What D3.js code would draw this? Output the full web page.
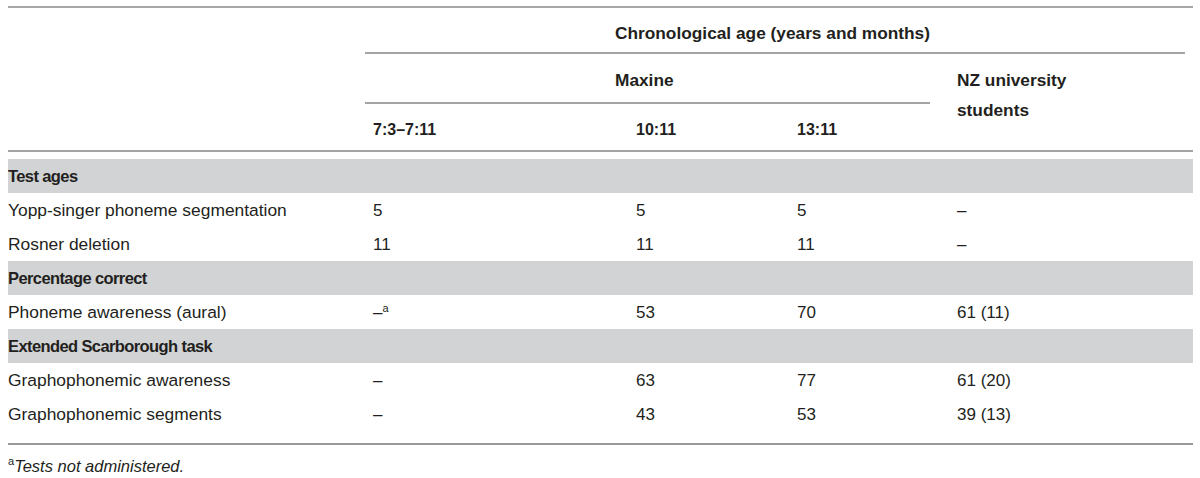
<!DOCTYPE html>
<html>
<head>
<meta charset="utf-8">
<script src="https://cdn.jsdelivr.net/npm/d3@7"></script>
<style>
  body { margin: 0; background: #fff; }
  text { font-family: "Liberation Sans", Arial, sans-serif; fill: #231f20; }
</style>
</head>
<body>
<div id="table"></div>
<script>
let w = 1200;
let h = 478;

// table content
let columns = ["7:3–7:11", "10:11", "13:11", "NZ"];
let rows = [
  "Test ages",
  "Yopp-singer phoneme segmentation",
  "Rosner deletion",
  "Percentage correct",
  "Phoneme awareness (aural)",
  "Extended Scarborough task",
  "Graphophonemic awareness",
  "Graphophonemic segments"
];
let sectionRows = ["Test ages", "Percentage correct", "Extended Scarborough task"];
let age7 = ["", "5", "11", "", "–a", "", "–", "–"];
let age10 = ["", "5", "11", "", "53", "", "63", "43"];
let age13 = ["", "5", "11", "", "70", "", "77", "53"];
let students = ["", "–", "–", "", "61 (11)", "", "61 (20)", "39 (13)"];
let footnote = "Tests not administered.";

let viz = d3.select("#table")
  .append("svg")
  .attr("width", w)
  .attr("height", h);

// scales
let yScale = d3.scaleBand().domain(rows).range([159, 431]);
let xScale = d3.scaleOrdinal().domain(columns).range([373, 636, 797, 957]);
let left = 8;
let right = 1193;

// header rules
viz.append("line").attr("x1", left).attr("x2", right).attr("y1", 7).attr("y2", 7)
  .attr("stroke", "#8a8a8a").attr("stroke-width", 1.5);
viz.append("line").attr("x1", 365).attr("x2", 1185).attr("y1", 53).attr("y2", 53)
  .attr("stroke", "#4a4a4a").attr("stroke-width", 1);
viz.append("line").attr("x1", 365).attr("x2", 930).attr("y1", 103).attr("y2", 103)
  .attr("stroke", "#4a4a4a").attr("stroke-width", 1);
viz.append("line").attr("x1", left).attr("x2", right).attr("y1", 151).attr("y2", 151)
  .attr("stroke", "#4a4a4a").attr("stroke-width", 1);

// header text
let header = viz.append("g").attr("font-weight", 700).attr("font-size", 17.3);
header.append("text").attr("x", 615).attr("y", 33).attr("dy", "0.35em")
  .text("Chronological age (years and months)");
header.append("text").attr("x", 615).attr("y", 80).attr("dy", "0.35em").text("Maxine");
header.append("text").attr("x", xScale("NZ")).attr("y", 80).attr("dy", "0.35em").text("NZ university");
header.append("text").attr("x", xScale("NZ")).attr("y", 110).attr("dy", "0.35em").text("students");
header.selectAll(".colhead").data(columns.slice(0, 3)).enter()
  .append("text")
  .attr("class", "colhead")
  .attr("x", d => xScale(d))
  .attr("y", 129)
  .attr("dy", "0.35em")
  .attr("font-size", 16)
  .text(d => d);

// grey section bands
viz.selectAll(".band").data(sectionRows).enter()
  .append("rect")
  .attr("class", "band")
  .attr("x", left)
  .attr("y", d => yScale(d))
  .attr("width", right - left)
  .attr("height", yScale.bandwidth())
  .attr("fill", "#d1d3d4");

// row labels
let isSection = d => sectionRows.includes(d);
viz.selectAll(".rowlabel").data(rows).enter()
  .append("text")
  .attr("class", "rowlabel")
  .attr("x", left)
  .attr("y", d => yScale(d) + yScale.bandwidth() / 2)
  .attr("dy", "0.35em")
  .attr("font-size", d => isSection(d) ? 16.5 : 17.4)
  .attr("letter-spacing", d => isSection(d) ? -0.6 : 0)
  .attr("font-weight", d => isSection(d) ? 700 : 400)
  .attr("fill", d => isSection(d) ? "#231f20" : "#333")
  .text(d => d);

// cells
let cells = [];
rows.forEach((r, i) => {
  [age7, age10, age13, students].forEach((col, j) => {
    if (col[i] !== "") cells.push({ row: r, col: columns[j], value: col[i] });
  });
});

let cell = viz.selectAll(".cell").data(cells).enter()
  .append("text")
  .attr("class", "cell")
  .attr("x", d => xScale(d.col))
  .attr("y", d => yScale(d.row) + yScale.bandwidth() / 2)
  .attr("dy", "0.35em")
  .attr("font-size", 17)
  .attr("fill", "#333");

cell.append("tspan").text(d => d.value.replace("a", ""));
cell.filter(d => d.value.endsWith("a"))
  .append("tspan")
  .attr("font-size", 11)
  .attr("dy", "-0.55em")
  .text("a");

// bottom rule
viz.append("line").attr("x1", left).attr("x2", right).attr("y1", 444).attr("y2", 444)
  .attr("stroke", "#999").attr("stroke-width", 2);

// footnote
let foot = viz.append("text").attr("x", left).attr("y", 470).attr("font-size", 16.5).attr("fill", "#333");
foot.append("tspan").attr("font-size", 11).attr("dy", "-0.45em").text("a");
foot.append("tspan").attr("font-style", "italic").attr("dy", "0.45em").text(footnote);
</script>
</body>
</html>
